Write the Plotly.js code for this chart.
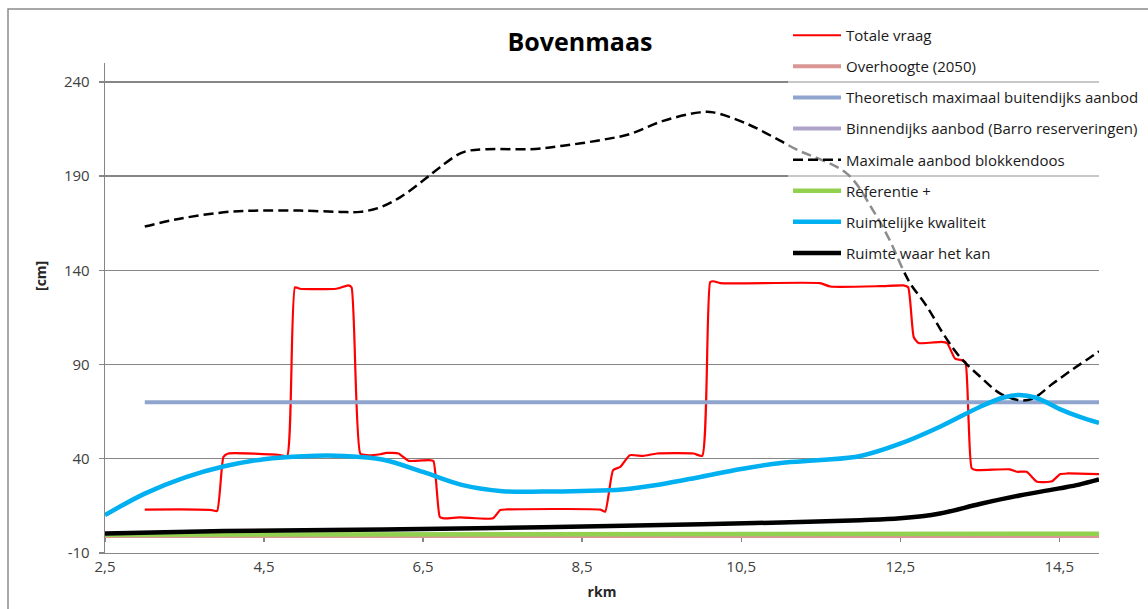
<!DOCTYPE html>
<html>
<head>
<meta charset="utf-8">
<script src="https://cdn.plot.ly/plotly-3.0.1.min.js"></script>
<style>
html,body{margin:0;padding:0;background:#fff;}
#chart{width:1148px;height:609px;}
</style>
</head>
<body>
<div id="chart"></div>
<script>
// ---- data (rkm in km, values in cm) ----
const seriesNames = [
  "Totale vraag",
  "Overhoogte (2050)",
  "Theoretisch maximaal buitendijks aanbod",
  "Binnendijks aanbod (Barro reserveringen)",
  "Maximale aanbod blokkendoos",
  "Referentie +",
  "Ruimtelijke kwaliteit",
  "Ruimte waar het kan"
];

const totaleVraagKm = [3.0,3.44,3.84,3.91,3.99,4.05,4.70,4.79,4.89,4.95,5.41,5.56,5.60,5.71,5.79,5.96,6.04,6.19,6.32,6.57,6.63,6.71,6.76,6.97,7.38,7.47,7.55,8.73,8.79,8.89,8.98,9.10,9.27,9.44,9.90,10.01,10.11,10.15,10.24,11.49,11.62,12.25,12.54,12.60,12.67,12.73,13.02,13.09,13.19,13.28,13.32,13.36,13.40,13.46,13.88,13.97,14.09,14.22,14.41,14.51,14.60,15.0];
const totaleVraag   = [13,13.1,12.8,12.3,41,42.8,42,41.4,131,130.2,130.2,132,131,42.8,41.9,42.4,43.1,42.8,38.9,39.3,38.8,9.2,8.4,8.9,8.4,12.8,13.1,13,11.9,34,35.7,41.9,41.5,42.8,42.8,41.5,133.7,134.2,133.2,133.2,131.4,131.6,132,131,104.6,101.4,102,101.4,93.1,92.2,91.3,60.4,34.9,34,34.4,33.1,33.1,27.8,28.1,31.8,32.2,31.8];

const overhoogteKm = [2.5, 15.0];
const overhoogte   = [-1, -1];

const theoretischKm = [3.0, 15.0];
const theoretisch   = [70, 70];

const binnendijksKm = [3.0, 15.0];
const binnendijks   = [null, null];

const blokKm = [3.0,3.44,4.07,4.45,4.95,5.46,5.71,5.96,6.21,6.5,6.71,7.0,7.3,7.85,8.26,8.69,9.1,9.52,9.98,10.15,10.58,10.99,11.2,11.83,12.16,12.37,12.54,12.63,12.84,13.04,13.25,13.51,13.76,14.01,14.17,14.42,14.68,14.93,15.0];
const blok   = [163.2,167.4,171.1,171.7,171.7,171,171,173.4,178.7,187.6,194.6,202.6,204.3,204.3,206.1,208.8,212.3,219.3,223.8,223.8,217.6,208.8,204,191.3,171.7,155.8,139.9,132.8,120.5,106.4,94,83.4,74.6,71,72,79.9,87.8,94.9,97];

const referentieKm = [2.5, 15.0];
const referentie   = [-0.3, 0.2];

const kwaliteitKm = [2.5,3.0,3.5,4.0,4.5,5.0,5.5,6.0,6.5,7.0,7.5,8.0,8.5,9.0,9.5,10.0,10.5,11.0,11.5,12.0,12.5,13.0,13.5,13.8,14.0,14.2,14.5,14.75,15.0];
const kwaliteit   = [10.1,21.5,30,36,39.8,41.4,41.5,39.5,33,26,22.8,22.6,22.9,23.7,26.5,30.5,34.6,37.8,39.3,41.5,48,57,67.5,72.5,73.9,72.5,66.5,62.3,59];

const ruimteKm = [2.5,4.0,6.0,8.0,10.0,11.0,12.0,12.5,13.0,13.5,14.0,14.5,14.75,15.0];
const ruimte   = [0.4,1.7,2.5,3.7,5.3,6.2,7.4,8.4,11,16,20.5,24.3,26.3,29];

const xTickVals = [2.5,4.5,6.5,8.5,10.5,12.5,14.5];
const xTickText = ["2,5","4,5","6,5","8,5","10,5","12,5","14,5"];
const yTickVals = [-10,40,90,140,190,240];
const yTickText = ["-10","40","90","140","190","240"];

// ---- styling ----
const FONT = "Open Sans, Lato, sans-serif";
const GRID = "#868686";

const traces = [
  {x: totaleVraagKm, y: totaleVraag, name: seriesNames[0], line:{color:"#FF0000", width:2.2, shape:"spline", smoothing:0.5}},
  {x: overhoogteKm, y: overhoogte, name: seriesNames[1], line:{color:"#D99694", width:4}},
  {x: theoretischKm, y: theoretisch, name: seriesNames[2], line:{color:"#8FA5CE", width:4}},
  {x: binnendijksKm, y: binnendijks, name: seriesNames[3], line:{color:"#B0A3C9", width:4}, xaxis:"x2"},
  {x: blokKm, y: blok, name: seriesNames[4], line:{color:"#000000", width:2.5, dash:"10px,5px", shape:"spline", smoothing:1}},
  {x: referentieKm, y: referentie, name: seriesNames[5], line:{color:"#92D050", width:4.5}},
  {x: kwaliteitKm, y: kwaliteit, name: seriesNames[6], line:{color:"#00B0F0", width:4.5, shape:"spline", smoothing:1}},
  {x: ruimteKm, y: ruimte, name: seriesNames[7], line:{color:"#000000", width:4.5, shape:"spline", smoothing:1}}
].map((t,i)=>Object.assign({type:"scatter", mode:"lines", hoverinfo:"skip", legendgroup:"g"+i}, t));

const W = 1148, H = 609;
const L = 105, R = 1099, T = 63, B = 553;
const px2x = p => (p - L) / (R - L);
const px2y = p => (B - p) / (B - T);

const layout = {
  width: W, height: H,
  margin: {l: L, r: W - R, t: T, b: H - B, pad: 0, autoexpand: false},
  paper_bgcolor: "#ffffff",
  plot_bgcolor: "#ffffff",
  separators: ",.",
  showlegend: true,
  title: {
    text: "Bovenmaas",
    font: {family: FONT, size: 25, color: "#000000", weight: "bold"},
    x: 580 / W, xanchor: "center", xref: "container",
    y: 1 - 42 / H, yanchor: "middle", yref: "container"
  },
  xaxis: {
    range: [2.5, 15],
    tickvals: xTickVals, ticktext: xTickText,
    showgrid: false, zeroline: false,
    showline: true, linecolor: GRID, linewidth: 1.3,
    ticks: "",
    tickfont: {family: FONT, size: 15, color: "#404040"},
    title: {text: "rkm", font: {family: FONT, size: 14, color: "#262626", weight: "bold"}, standoff: 12}
  },
  xaxis2: {
    overlaying: "x", anchor: "free", position: 10 / 260,
    range: [2.5, 15], tickvals: xTickVals, ticktext: xTickText,
    showticklabels: false, showgrid: false, zeroline: false,
    showline: true, linecolor: GRID, linewidth: 1.3,
    ticks: "outside", ticklen: 7, tickcolor: GRID, tickwidth: 1.3,
    layer: "below traces"
  },
  yaxis: {
    range: [-10, 250],
    tickvals: yTickVals, ticktext: yTickText,
    showgrid: true, gridcolor: GRID, gridwidth: 1.3,
    zeroline: false,
    showline: true, linecolor: GRID, linewidth: 1.3,
    ticks: "outside", ticklen: 5, tickcolor: GRID, tickwidth: 1.3,
    ticklabelstandoff: 6,
    tickfont: {family: FONT, size: 15, color: "#404040"}
  },
  legend: {
    x: px2x(788), xanchor: "left",
    y: px2y(19), yanchor: "top",
    bgcolor: "rgba(255,255,255,0.55)",
    borderwidth: 0,
    font: {family: FONT, size: 15, color: "#1a1a1a"},
    tracegroupgap: 8.6,
    itemwidth: 48
  },
  annotations: [{
    text: "[cm]", textangle: -90,
    xref: "paper", yref: "paper",
    x: px2x(40), y: px2y(276),
    xanchor: "center", yanchor: "middle",
    showarrow: false,
    font: {family: FONT, size: 14, color: "#262626", weight: "bold"}
  }],
  shapes: [{
    type: "rect", xref: "paper", yref: "paper",
    x0: px2x(8), x1: px2x(1170), y0: px2y(640), y1: px2y(9),
    line: {color: "#8c8c8c", width: 1.5},
    fillcolor: "rgba(0,0,0,0)", layer: "below"
  }]
};

Plotly.newPlot("chart", traces, layout, {staticPlot: true, displayModeBar: false});
</script>
</body>
</html>
